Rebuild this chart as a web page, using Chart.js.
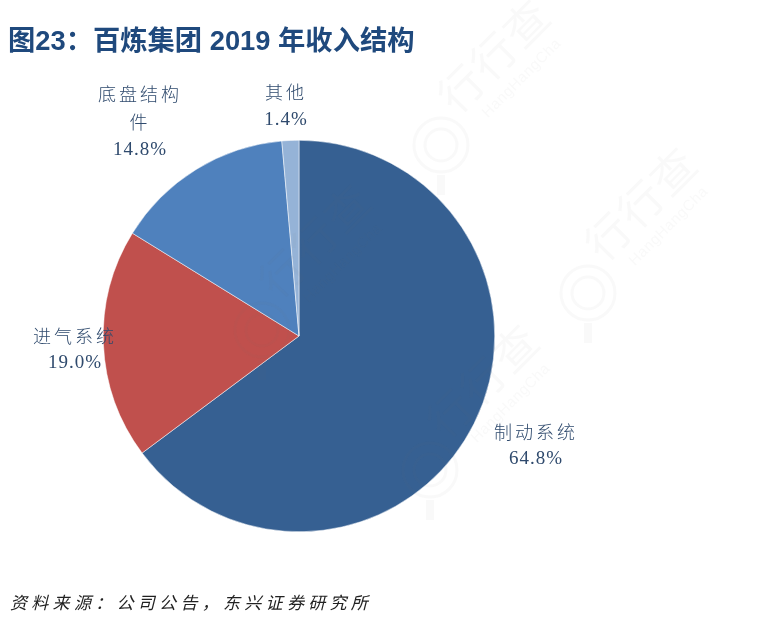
<!DOCTYPE html>
<html><head><meta charset="utf-8">
<style>html,body{margin:0;padding:0;background:#fff}#w{position:relative;width:761px;height:630px}canvas{display:block}</style>
<script src="https://cdn.jsdelivr.net/npm/chart.js@4"></script></head>
<body><div id="w"><canvas id="c" width="761" height="630"></canvas></div>
<script>
const categories = ['制动系统','进气系统','底盘结构件','其他'];
const values = [64.8,19.0,14.8,1.4];
const colors = ['#366092','#C0504D','#4F81BD','#95B3D7'];
const labelLines = [['制动系统','64.8%'],['进气系统','19.0%'],['底盘结构','件','14.8%'],['其他','1.4%']];
const labelAt = [[536,432],[75,336],[140,94],[286,92]];
const labelStep = [27,27,28,28];
const titleText = '图23：百炼集团 2019 年收入结构';
const sourceText = '资料来源：公司公告，东兴证券研究所';
const marks = [[441,145],[588,293],[262,330],[430,470]];

const overlay = {
  id:'overlay',
  afterDraw(chart){
    const x = chart.ctx;
    x.save();
    marks.forEach(([mx,my])=>{
      x.save();
      x.translate(mx,my);
      x.strokeStyle='rgba(120,120,120,0.045)';
      x.fillStyle='rgba(120,120,120,0.045)';
      x.lineWidth=3;
      x.beginPath();x.arc(0,0,27,0,Math.PI*2);x.stroke();
      x.beginPath();x.arc(0,0,16,0,Math.PI*2);x.stroke();
      x.beginPath();x.moveTo(0,30);x.lineTo(0,50);x.lineWidth=8;x.stroke();
      x.rotate(-Math.PI/4);
      x.textAlign='left';x.textBaseline='middle';
      x.font='44px "Noto Sans CJK SC"';
      x.letterSpacing='2px';
      x.fillText('行行查',32,-26);
      x.font='15px "Liberation Sans"';
      x.letterSpacing='0.5px';
      x.fillText('HangHangCha',52,10);
      x.restore();
    });
    x.textBaseline='middle';
    x.textAlign='left';
    x.fillStyle='#1F497D';
    x.letterSpacing='0px';
    x.font='bold 27.3px "Liberation Sans","Noto Sans CJK SC"';
    x.fillText(titleText,8,42);
    x.fillStyle='#222';
    x.letterSpacing='4.3px';
    x.font='italic 17px "Liberation Serif","Noto Sans CJK SC"';
    x.fillText(sourceText,10,605);
    x.textAlign='center';
    x.fillStyle='#2f4a6d';
    labelLines.forEach((lines,i)=>{
      lines.forEach((t,j)=>{
        const cjk=/[^\x00-\x7f]/.test(t);
        x.letterSpacing=cjk?'3px':'1px';
        x.font=cjk?'300 18px "Noto Sans CJK SC"':'19px "Liberation Serif"';
        x.fillText(t,labelAt[i][0],labelAt[i][1]+j*labelStep[i]);
      });
    });
    x.restore();
  }
};

new Chart(document.getElementById('c'),{
  type:'pie',
  data:{labels:categories,datasets:[{data:values,backgroundColor:colors,borderColor:'#fff',borderWidth:0.5}]},
  options:{
    responsive:false,animation:false,devicePixelRatio:1,
    layout:{padding:{left:103,right:266,top:140,bottom:98}},
    plugins:{legend:{display:false},tooltip:{enabled:false},title:{display:false}}
  },
  plugins:[overlay]
});
</script></body></html>
